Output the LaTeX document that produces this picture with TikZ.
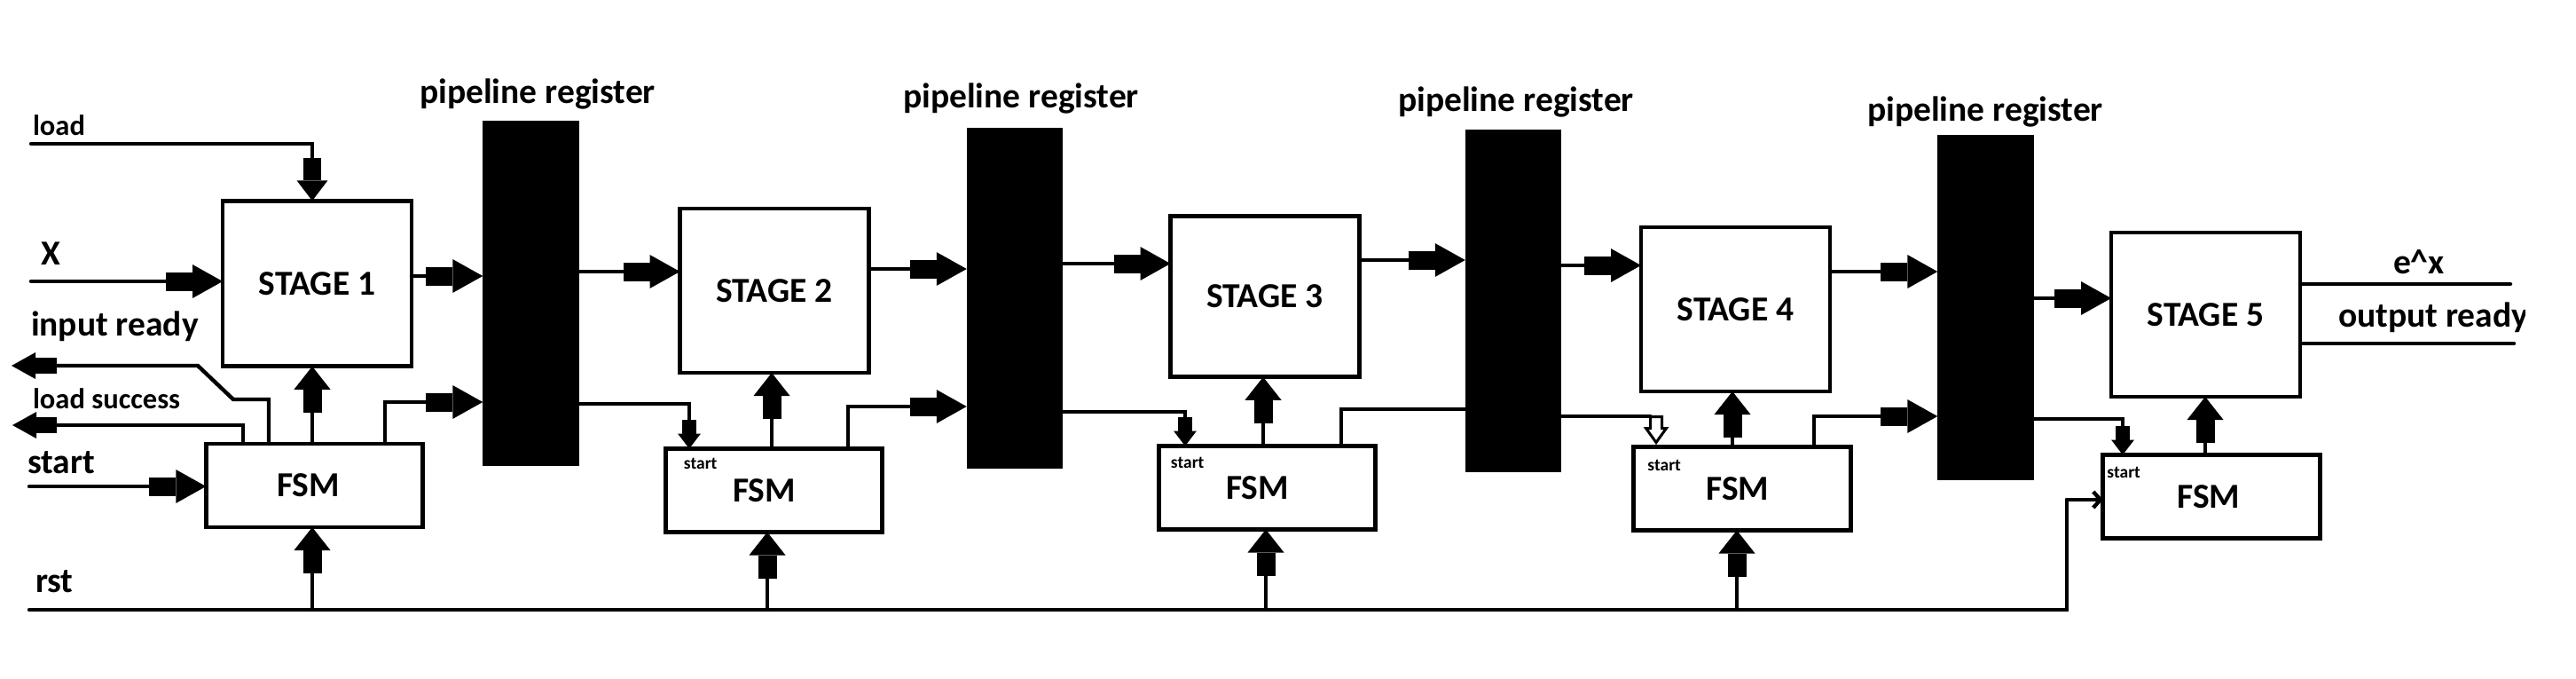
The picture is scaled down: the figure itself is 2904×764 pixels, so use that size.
\documentclass[tikz,border=0pt]{standalone}
\usepackage{fontspec}
\setmainfont{Carlito}
\usetikzlibrary{arrows.meta,calc}
\newcommand\hblk[3]{\draw[wire] (#1 |- #3) -- ($(#2 |- #3)+(-64,0)$);
  \draw[blk] ($(#2 |- #3)+(-64,0)$) -- (#2 |- #3);}
\newcommand\cblk[4]{\draw[wire] (#1.north -| #2) |- ($(#3.west |- #4)+(-64,0)$);
  \draw[blk] ($(#3.west |- #4)+(-64,0)$) -- (#3.west |- #4);}
\newcommand\sblk[4]{\draw[wire] (#1.east |- #2) -| ($(#3.north -| #4)+(0,-33)$);
  \draw[blks] ($(#3.north -| #4)+(0,-33)$) -- (#3.north -| #4);}
\newcommand\ublk[3]{\draw[wire] (#1.north -| #3) -- ($(#2.south -| #3)+(0,52)$);
  \draw[blkv] ($(#2.south -| #3)+(0,52)$) -- (#2.south -| #3);}
\newcommand\rblk[2]{\draw[wire] (#2 |- rstL) -- ($(#1.south -| #2)+(0,52)$);
  \draw[blkv] ($(#1.south -| #2)+(0,52)$) -- (#1.south -| #2);}
\begin{document}
\begin{tikzpicture}[x=1pt,y=-1pt,
  every node/.style={inner sep=0pt, outer sep=0pt},
  txtbig/.style={font=\fontsize{39.5}{45}\selectfont\bfseries},
  txtmid/.style={font=\fontsize{32.5}{37}\selectfont\bfseries},
  txtsmall/.style={font=\fontsize{19.5}{22}\selectfont\bfseries},
  box/.style={draw, line width=4.6pt, fill=white, txtbig},
  stagebox/.style={box, minimum width=213pt, minimum height=185pt},
  fsmbox/.style={box, minimum width=244.5pt, minimum height=94pt},
  reg/.style={fill=black, minimum width=108.5pt},
  wire/.style={line width=4.4pt, line cap=round},
  blk/.style={line width=21pt, line cap=butt, -{Triangle[length=34pt,width=38pt,line width=0pt]}},
  blkv/.style={line width=21pt, line cap=butt, -{Triangle[length=26pt,width=41pt,line width=0pt]}},
  blks/.style={line width=16pt, line cap=butt, -{Triangle[length=17pt,width=26pt,line width=0pt]}},
  blkd/.style={line width=20pt, line cap=butt, -{Triangle[length=23pt,width=35pt,line width=0pt]}},
  blkl/.style={line width=18pt, line cap=butt, -{Triangle[length=27pt,width=30pt,line width=0pt]}},
  hollow/.style={line width=3pt, fill=white, line join=miter}
]
\useasboundingbox (0,0) rectangle (2904,764);
% registers
\node[reg, minimum height=389pt] (r1) at (598.5,330.5) {};
\node[reg, minimum height=384pt] (r2) at (1144,336) {};
\node[reg, minimum height=386pt] (r3) at (1706,339) {};
\node[reg, minimum height=389pt] (r4) at (2238.5,346.5) {};
\node[txtbig, anchor=base] (p1) at (606,116) {pipeline register};
\node[txtbig, anchor=base] (p2) at (1151,121) {pipeline register};
\node[txtbig, anchor=base] (p3) at (1709,125) {pipeline register};
\node[txtbig, anchor=base] (p4) at (2238,136) {pipeline register};
% stages
\node[stagebox, minimum height=186.5pt] (s1) at (357.5,319.5) {STAGE 1};
\node[stagebox] (s2) at (873,327.5) {STAGE 2};
\node[stagebox, minimum height=181.5pt] (s3) at (1426,334) {STAGE 3};
\node[stagebox] (s4) at (1956.5,348.5) {STAGE 4};
\node[stagebox] (s5) at (2486.5,354.5) {STAGE 5};
% fsms
\node[fsmbox] (f1) at (354.5,547) {FSM\hspace*{14pt}};
\node[fsmbox] (f2) at (872.5,552.5) {FSM\hspace*{22pt}};
\node[fsmbox] (f3) at (1428.5,549.5) {FSM\hspace*{22pt}};
\node[fsmbox] (f4) at (1964,550.5) {FSM\hspace*{10pt}};
\node[fsmbox] (f5) at (2493,559.5) {FSM\hspace*{6pt}};
\node[txtsmall, anchor=base west] (st2) at ($(f2.north west)+(20.7,22.7)$) {start};
\node[txtsmall, anchor=base west] (st3) at ($(f3.north west)+(13.7,25)$) {start};
\node[txtsmall, anchor=base west] (st4) at ($(f4.north west)+(15.7,26.7)$) {start};
\node[txtsmall, anchor=base west] (st5) at ($(f5.north west)+(4.7,25.7)$) {start};
% text labels
\node[txtmid, anchor=base west] (tload) at (37,152) {load};
\node[txtbig, anchor=base west] (tx) at (46,298) {X};
\node[txtbig, anchor=base west] (tir) at (35,378) {input ready};
\node[txtmid, anchor=base west] (tls) at (37,460) {load success};
\node[txtbig, anchor=base west] (tst) at (31,533) {start};
\node[txtbig, anchor=base west] (trst) at (40,667) {rst};
\node[txtbig, anchor=base west] (tex) at (2698,308) {e\textasciicircum x};
\begin{scope}
  \clip (2590,330) rectangle (2846,400);
  \node[txtbig, anchor=base west] (tor) at (2636,368) {output ready};
\end{scope}
% coordinates
\coordinate (ldS) at (35,162);
\coordinate (ldB) at (352,178);
\coordinate (xS) at (35,317);
\coordinate (stS) at (33,548);
\coordinate (irT) at (13,412);
\coordinate (irL) at (64,412);
\coordinate (irA) at (223,412);
\coordinate (irB) at (263,450);
\coordinate (irX) at (303,0);
\coordinate (lsT) at (14,479);
\coordinate (lsL) at (64,479);
\coordinate (lsX) at (274,0);
\coordinate (u1) at (352,0); \coordinate (u2) at (870,0); \coordinate (u3) at (1424,0);
\coordinate (u4) at (1953,0); \coordinate (u5) at (2486,0);
\coordinate (q2) at (865,0); \coordinate (q3) at (1427,0); \coordinate (q4) at (1958,0);
\coordinate (c1) at (434,0); \coordinate (c2) at (956,0); \coordinate (c3) at (1512,0); \coordinate (c4) at (2045,0);
\coordinate (sx2) at (777,0); \coordinate (sx3) at (1336,0); \coordinate (sx4) at (1867,0); \coordinate (sx5) at (2393,0);
\coordinate (d1) at (0,311); \coordinate (d2) at (0,306); \coordinate (d3) at (0,303); \coordinate (d4) at (0,297);
\coordinate (d5) at (0,293); \coordinate (d6) at (0,299); \coordinate (d7) at (0,306); \coordinate (d8) at (0,336);
\coordinate (k1) at (0,453); \coordinate (k2) at (0,455); \coordinate (k3) at (0,458); \coordinate (k4) at (0,464);
\coordinate (k5) at (0,461); \coordinate (k6) at (0,469); \coordinate (k7) at (0,469); \coordinate (k8) at (0,472);
\coordinate (rstL) at (33,687); \coordinate (rstC) at (2330,563);
\coordinate (o1) at (2830,320); \coordinate (o2) at (2834,387);
% inputs on the left
\draw[wire] (ldS) -| (ldB);
\draw[blkd] (ldB) -- (s1.north -| ldB);
\draw[wire] (xS) -- ($(s1.west |- xS)+(-64,0)$);
\draw[blk] ($(s1.west |- xS)+(-64,0)$) -- (s1.west |- xS);
\draw[wire] (stS) -- ($(f1.west |- stS)+(-64,0)$);
\draw[blk] ($(f1.west |- stS)+(-64,0)$) -- (f1.west |- stS);
\draw[wire] (f1.north -| irX) |- (irB) -- (irA) -- (irL);
\draw[blkl] (irL) -- (irT);
\draw[wire] (f1.north -| lsX) |- (lsL);
\draw[blkl] (lsL) -- (lsT);
% data path
\hblk{s1.east}{r1.west}{d1}
\hblk{r1.east}{s2.west}{d2}
\hblk{s2.east}{r2.west}{d3}
\hblk{r2.east}{s3.west}{d4}
\hblk{s3.east}{r3.west}{d5}
\hblk{r3.east}{s4.west}{d6}
\hblk{s4.east}{r4.west}{d7}
\hblk{r4.east}{s5.west}{d8}
% fsm to stage
\ublk{f1}{s1}{u1}
\ublk{f2}{s2}{u2}
\ublk{f3}{s3}{u3}
\ublk{f4}{s4}{u4}
\ublk{f5}{s5}{u5}
% fsm to registers
\cblk{f1}{c1}{r1}{k1}
\cblk{f2}{c2}{r2}{k3}
\draw[wire] (f3.north -| c3) |- (r3.west |- k5);
\cblk{f4}{c4}{r4}{k7}
% registers to next fsm start
\sblk{r1}{k2}{f2}{sx2}
\sblk{r2}{k4}{f3}{sx3}
\draw[wire] (r3.east |- k6) -- ($(sx4 |- k6)+(-6.5,0)$);
\draw[hollow] ($(f4.north -| sx4)+(0,-5)$) coordinate (hT) -- ++(-11.5,-16) -- ++(5,0) -- ++(0,-13) -- ++(13,0) -- ++(0,13) -- ++(5,0) -- cycle;
\sblk{r4}{k8}{f5}{sx5}
% reset
\draw[wire] (rstL) -| (rstC);
\draw[wire, -{Straight Barb[length=8pt,width=18pt]}] (rstC) -- (f5.west |- rstC);
\rblk{f1}{u1}
\rblk{f2}{q2}
\rblk{f3}{q3}
\rblk{f4}{q4}
% outputs
\draw[wire] (s5.east |- o1) -- (o1);
\draw[wire] (s5.east |- o2) -- (o2);
\end{tikzpicture}
\end{document}
